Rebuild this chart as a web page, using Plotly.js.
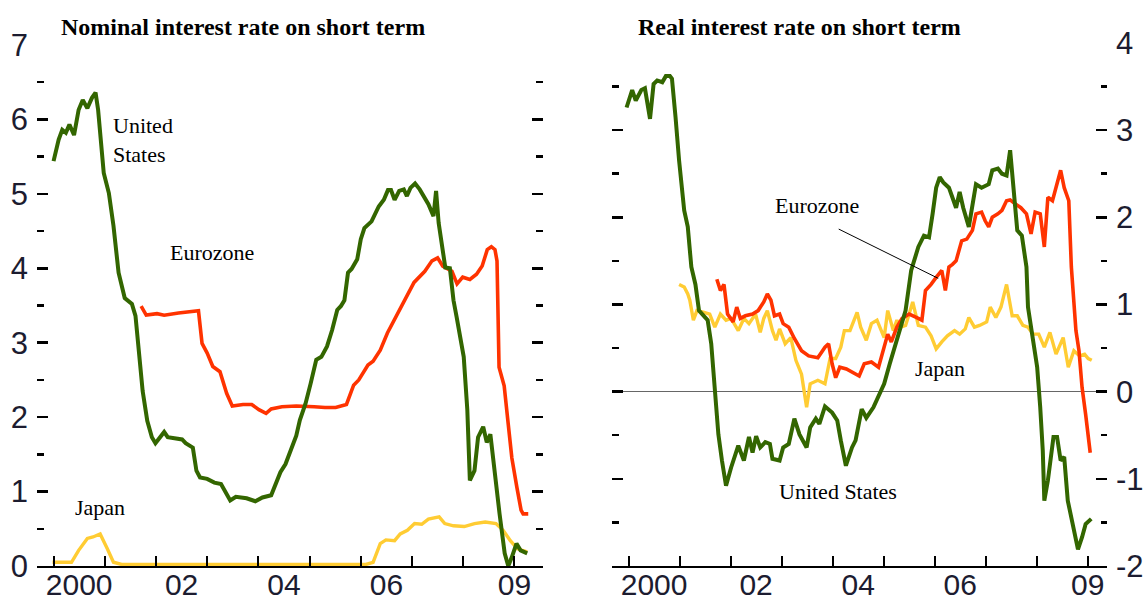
<!DOCTYPE html>
<html><head><meta charset="utf-8">
<script src="https://cdn.plot.ly/plotly-3.0.1.min.js"></script>
<style>html,body{margin:0;padding:0;background:#fff}#chart{width:1144px;height:603px}</style>
</head><body><div id="chart"></div>
<script>
// ---------- Nominal short-term interest rate (left panel) ----------
const usNomX = [2000.0, 2000.1, 2000.17, 2000.24, 2000.31, 2000.4, 2000.49, 2000.57, 2000.66, 2000.75,
  2000.82, 2000.87, 2000.98, 2001.08, 2001.17, 2001.27, 2001.39, 2001.53, 2001.6, 2001.67,
  2001.74, 2001.83, 2001.92, 2001.99, 2002.09, 2002.16, 2002.23, 2002.41, 2002.51, 2002.58,
  2002.72, 2002.79, 2002.86, 2003.0, 2003.14, 2003.27, 2003.35, 2003.45, 2003.56, 2003.77,
  2003.94, 2004.08, 2004.25, 2004.36, 2004.43, 2004.53, 2004.64, 2004.74, 2004.81, 2004.92,
  2005.02, 2005.13, 2005.23, 2005.34, 2005.44, 2005.54, 2005.61, 2005.68, 2005.75, 2005.82,
  2005.93, 2006.0, 2006.07, 2006.21, 2006.35, 2006.45, 2006.53, 2006.59, 2006.66, 2006.75,
  2006.84, 2006.9, 2006.97, 2007.06, 2007.15, 2007.23, 2007.32, 2007.42, 2007.47, 2007.52,
  2007.58, 2007.65, 2007.74, 2007.81, 2007.87, 2007.94, 2008.01, 2008.08, 2008.13, 2008.22,
  2008.29, 2008.39, 2008.46, 2008.53, 2008.6, 2008.71, 2008.81, 2008.88, 2008.95, 2009.04,
  2009.12, 2009.25];
const usNomY = [5.44, 5.73, 5.86, 5.82, 5.93, 5.79, 6.13, 6.26, 6.15, 6.29,
  6.36, 6.13, 5.28, 5.01, 4.57, 3.94, 3.6, 3.52, 3.36, 2.87,
  2.35, 1.95, 1.73, 1.65, 1.73, 1.8, 1.73, 1.71, 1.7, 1.65,
  1.59, 1.28, 1.19, 1.17, 1.12, 1.1, 1.0, 0.88, 0.93, 0.91,
  0.87, 0.92, 0.95, 1.15, 1.26, 1.37, 1.57, 1.75, 1.96, 2.18,
  2.45, 2.77, 2.81, 2.95, 3.17, 3.44, 3.49, 3.57, 3.94, 3.99,
  4.12, 4.39, 4.54, 4.63, 4.83, 4.92, 5.05, 5.05, 4.92, 5.04,
  5.06, 4.97, 5.08, 5.14, 5.06, 4.97, 4.86, 4.7, 5.04, 4.61,
  4.34, 4.01, 4.0, 3.57, 3.35, 3.08, 2.81, 2.1, 1.15, 1.28,
  1.73, 1.87, 1.66, 1.77, 1.33, 0.7, 0.17, 0.0, 0.12, 0.3,
  0.21, 0.17];

const euNomX = [2001.71, 2001.81, 2002.02, 2002.16, 2002.44, 2002.65, 2002.83, 2002.9, 2003.0, 2003.11,
  2003.25, 2003.38, 2003.49, 2003.7, 2003.87, 2004.01, 2004.15, 2004.25, 2004.46, 2004.74,
  2004.95, 2005.09, 2005.3, 2005.51, 2005.72, 2005.86, 2005.96, 2006.14, 2006.24, 2006.38,
  2006.52, 2006.69, 2006.87, 2007.04, 2007.25, 2007.39, 2007.5, 2007.6, 2007.78, 2007.88,
  2007.99, 2008.13, 2008.26, 2008.37, 2008.47, 2008.55, 2008.62, 2008.66, 2008.7, 2008.8,
  2008.88, 2008.95, 2009.05, 2009.13, 2009.17, 2009.27];
const euNomY = [3.49, 3.37, 3.39, 3.37, 3.4, 3.41, 3.43, 2.99, 2.86, 2.68,
  2.61, 2.32, 2.15, 2.17, 2.17, 2.1, 2.05, 2.11, 2.14, 2.15,
  2.15, 2.14, 2.13, 2.13, 2.17, 2.43, 2.5, 2.7, 2.75, 2.9,
  3.13, 3.35, 3.57, 3.81, 3.96, 4.1, 4.14, 4.03, 3.96, 3.79,
  3.88, 3.85, 3.92, 4.03, 4.25, 4.29, 4.25, 4.1, 2.67, 2.42,
  1.9, 1.45, 1.05, 0.75, 0.7, 0.7];

const jpNomX = [1999.98, 2000.14, 2000.35, 2000.49, 2000.66, 2000.77, 2000.91, 2001.05, 2001.17, 2001.33,
  2002.0, 2003.0, 2004.0, 2005.0, 2006.1, 2006.24, 2006.38, 2006.49, 2006.66, 2006.77,
  2006.91, 2007.05, 2007.19, 2007.32, 2007.53, 2007.64, 2007.81, 2008.02, 2008.22, 2008.43,
  2008.64, 2008.78, 2008.92, 2009.06, 2009.25];
const jpNomY = [0.05, 0.05, 0.05, 0.21, 0.37, 0.39, 0.43, 0.23, 0.05, 0.02,
  0.02, 0.02, 0.02, 0.02, 0.02, 0.05, 0.3, 0.35, 0.34, 0.43,
  0.48, 0.57, 0.56, 0.63, 0.66, 0.57, 0.54, 0.53, 0.57, 0.59,
  0.57, 0.48, 0.34, 0.23, 0.19];

// ---------- Real short-term interest rate (right panel) ----------
const usRealX = [1999.96, 2000.07, 2000.14, 2000.25, 2000.32, 2000.42, 2000.49, 2000.56, 2000.66, 2000.73,
  2000.81, 2000.85, 2000.92, 2000.99, 2001.09, 2001.16, 2001.23, 2001.31, 2001.38, 2001.48,
  2001.55, 2001.62, 2001.69, 2001.76, 2001.83, 2001.91, 2002.01, 2002.15, 2002.26, 2002.36,
  2002.43, 2002.5, 2002.58, 2002.68, 2002.77, 2002.82, 2002.96, 2003.03, 2003.14, 2003.25,
  2003.35, 2003.49, 2003.56, 2003.67, 2003.74, 2003.85, 2003.99, 2004.09, 2004.16, 2004.26,
  2004.38, 2004.45, 2004.57, 2004.66, 2004.8, 2004.9, 2005.01, 2005.12, 2005.22, 2005.33,
  2005.43, 2005.54, 2005.68, 2005.79, 2005.89, 2005.96, 2006.03, 2006.1, 2006.17, 2006.28,
  2006.35, 2006.42, 2006.49, 2006.56, 2006.67, 2006.74, 2006.81, 2006.92, 2007.06, 2007.13,
  2007.24, 2007.32, 2007.41, 2007.48, 2007.55, 2007.62, 2007.71, 2007.8, 2007.83, 2007.93,
  2008.01, 2008.07, 2008.12, 2008.15, 2008.22, 2008.33, 2008.4, 2008.47, 2008.54, 2008.61,
  2008.72, 2008.81, 2008.89, 2008.96, 2009.07];
const usRealY = [3.26, 3.46, 3.34, 3.46, 3.48, 3.13, 3.53, 3.57, 3.55, 3.62,
  3.62, 3.59, 3.15, 2.65, 2.08, 1.89, 1.43, 1.23, 0.93, 0.87,
  0.82, 0.55, 0.01, -0.49, -0.79, -1.08, -0.87, -0.62, -0.79, -0.52,
  -0.7, -0.51, -0.64, -0.58, -0.6, -0.77, -0.79, -0.64, -0.6, -0.31,
  -0.49, -0.64, -0.41, -0.31, -0.37, -0.17, -0.24, -0.33, -0.56, -0.85,
  -0.64, -0.56, -0.2, -0.3, -0.18, -0.05, 0.09, 0.32, 0.51, 0.74,
  0.93, 1.39, 1.66, 1.79, 1.77, 2.04, 2.34, 2.46, 2.4, 2.34,
  2.23, 2.11, 2.29, 2.11, 1.89, 2.15, 2.38, 2.34, 2.38, 2.54,
  2.56, 2.5, 2.48, 2.77, 2.27, 1.85, 1.79, 1.43, 0.97, 0.55,
  0.28, -0.18, -0.68, -1.25, -1.02, -0.52, -0.52, -0.79, -0.75, -1.25,
  -1.56, -1.81, -1.67, -1.52, -1.46];

const euRealX = [2001.73, 2001.8, 2001.87, 2001.94, 2002.05, 2002.12, 2002.19, 2002.29, 2002.43, 2002.54,
  2002.65, 2002.72, 2002.79, 2002.86, 2002.96, 2003.03, 2003.14, 2003.25, 2003.39, 2003.53,
  2003.71, 2003.85, 2003.92, 2003.99, 2004.06, 2004.14, 2004.27, 2004.41, 2004.52, 2004.62,
  2004.76, 2004.9, 2005.01, 2005.08, 2005.15, 2005.26, 2005.36, 2005.5, 2005.65, 2005.75,
  2005.82, 2005.93, 2006.03, 2006.14, 2006.21, 2006.28, 2006.35, 2006.42, 2006.53, 2006.63,
  2006.74, 2006.81, 2006.92, 2006.99, 2007.06, 2007.13, 2007.24, 2007.32, 2007.41, 2007.48,
  2007.59, 2007.69, 2007.8, 2007.89, 2007.97, 2008.07, 2008.15, 2008.22, 2008.31, 2008.38,
  2008.47, 2008.54, 2008.63, 2008.68, 2008.73, 2008.77, 2008.83, 2008.89, 2008.96, 2009.05];
const euRealY = [1.29, 1.16, 1.23, 0.89, 0.8, 0.97, 0.84, 0.87, 0.89, 0.93,
  1.03, 1.12, 1.05, 0.87, 0.89, 0.78, 0.74, 0.61, 0.47, 0.41,
  0.39, 0.51, 0.55, 0.32, 0.16, 0.28, 0.26, 0.22, 0.18, 0.32,
  0.34, 0.28, 0.51, 0.66, 0.57, 0.74, 0.84, 0.89, 0.85, 0.82,
  1.16, 1.23, 1.31, 1.39, 1.16, 1.43, 1.46, 1.5, 1.73, 1.75,
  1.85, 2.04, 2.06, 1.96, 1.89, 2.0, 2.04, 2.08, 2.19, 2.2,
  2.15, 2.11, 2.04, 1.81, 2.06, 2.04, 1.66, 2.23, 2.19, 2.34,
  2.54, 2.34, 2.19, 1.43, 1.04, 0.7, 0.47, 0.05, -0.26, -0.7];

const jpRealX = [2000.99, 2001.09, 2001.16, 2001.2, 2001.27, 2001.34, 2001.48, 2001.59, 2001.69, 2001.8,
  2001.91, 2002.01, 2002.15, 2002.26, 2002.36, 2002.49, 2002.58, 2002.65, 2002.72, 2002.82,
  2002.89, 2002.96, 2003.07, 2003.18, 2003.28, 2003.39, 2003.49, 2003.56, 2003.71, 2003.85,
  2003.95, 2004.06, 2004.16, 2004.23, 2004.34, 2004.48, 2004.55, 2004.66, 2004.76, 2004.87,
  2005.01, 2005.08, 2005.19, 2005.26, 2005.33, 2005.43, 2005.5, 2005.57, 2005.68, 2005.82,
  2005.93, 2006.03, 2006.14, 2006.25, 2006.39, 2006.49, 2006.6, 2006.67, 2006.78, 2006.88,
  2007.02, 2007.09, 2007.2, 2007.3, 2007.41, 2007.52, 2007.62, 2007.73, 2007.83, 2007.93,
  2008.04, 2008.15, 2008.26, 2008.38, 2008.52, 2008.62, 2008.73, 2008.84, 2008.94, 2009.01,
  2009.08];
const jpRealY = [1.23, 1.2, 1.12, 1.05, 0.82, 0.93, 0.91, 0.89, 0.74, 0.89,
  0.82, 0.84, 0.7, 0.84, 0.78, 0.89, 0.68, 0.84, 0.93, 0.7,
  0.59, 0.72, 0.55, 0.62, 0.36, 0.2, -0.18, 0.09, 0.13, 0.09,
  0.38, 0.38, 0.51, 0.7, 0.7, 0.91, 0.74, 0.59, 0.78, 0.82,
  0.62, 0.93, 0.7, 0.82, 0.74, 0.76, 0.89, 1.03, 0.76, 0.74,
  0.64, 0.49, 0.57, 0.64, 0.7, 0.66, 0.72, 0.85, 0.74, 0.76,
  0.8, 0.97, 0.85, 0.97, 1.23, 0.87, 0.87, 0.76, 0.74, 0.66,
  0.66, 0.51, 0.68, 0.43, 0.62, 0.28, 0.47, 0.41, 0.43, 0.38,
  0.36];

// ---------- Tick labels ----------
const xTickVals = [2000.5, 2002.5, 2004.5, 2006.5, 2009];
const xTickText = ['2000', '02', '04', '06', '09'];
const nomTickVals = [0, 1, 2, 3, 4, 5, 6, 7];
const nomTickText = ['0', '1', '2', '3', '4', '5', '6', '7'];
const realTickVals = [-2, -1, 0, 1, 2, 3, 4];
const realTickText = ['-2', '-1', '0', '1', '2', '3', '4'];

const GREEN = '#336600', RED = '#ff3300', YELLOW = '#ffcc33';
const tickFont = {family: 'Liberation Sans, Arial, sans-serif', size: 31, color: '#1c1c30'};
const xTickFont = {family: 'Liberation Sans, Arial, sans-serif', size: 30, color: '#1c1c30'};
const serif = 'Liberation Serif, Times New Roman, serif';

function line(x, y, color, width, xa, ya) {
  return {type: 'scatter', mode: 'lines', x: x, y: y, xaxis: xa, yaxis: ya,
    line: {color: color, width: width}, hoverinfo: 'skip', showlegend: false};
}

const data = [
  line(jpNomX, jpNomY, YELLOW, 3.4, 'x', 'y'),
  line(euNomX, euNomY, RED, 3.6, 'x', 'y'),
  line(usNomX, usNomY, GREEN, 4, 'x', 'y'),
  line(jpRealX, jpRealY, YELLOW, 3.4, 'x2', 'y2'),
  line(euRealX, euRealY, RED, 3.6, 'x2', 'y2'),
  line(usRealX, usRealY, GREEN, 4, 'x2', 'y2')
];

function xAxis(domain, range, anchor) {
  return {domain: domain, range: range, anchor: anchor,
    showline: true, linecolor: '#000', linewidth: 2.5,
    showgrid: false, zeroline: false,
    tickmode: 'array', tickvals: xTickVals, ticktext: xTickText,
    ticks: 'outside', ticklen: 0, tickfont: xTickFont, ticklabelstandoff: -9,
    minor: {tick0: 2000, dtick: 1, ticks: 'inside', ticklen: 10, tickwidth: 2, tickcolor: '#000', showgrid: false},
    fixedrange: true};
}
function yAxis(domain, range, anchor, side, vals, text, zl) {
  return {domain: domain, range: range, anchor: anchor, side: side,
    showline: false, showgrid: false, zeroline: zl, zerolinecolor: '#666', zerolinewidth: 1,
    tickmode: 'array', tickvals: vals, ticktext: text,
    ticks: 'inside', ticklen: 11, tickwidth: 2.5, tickcolor: '#000', mirror: 'ticks',
    minor: {tick0: 0, dtick: 0.5, ticks: 'inside', ticklen: 6.5, tickwidth: 2.5, tickcolor: '#000', showgrid: false},
    tickfont: tickFont, ticklabelstandoff: 8, fixedrange: true};
}

const annFont = {family: serif, size: 22, color: '#000'};
const titleFont = {family: serif, size: 24, color: '#000', weight: 'bold'};

const layout = {
  width: 1144, height: 603,
  margin: {l: 0, r: 0, t: 0, b: 0},
  paper_bgcolor: '#fff', plot_bgcolor: '#fff',
  showlegend: false,
  xaxis: xAxis([0.0324, 0.4746], [1999.678, 2009.557], 'y'),
  yaxis: yAxis([0.0614, 0.9254], [0, 7], 'x', 'left', nomTickVals, nomTickText, false),
  xaxis2: xAxis([0.5353, 0.9677], [1999.682, 2009.38], 'y2'),
  yaxis2: yAxis([0.0614, 0.9287], [-2, 4], 'x2', 'right', realTickVals, realTickText, true),
  annotations: [
    {xref: 'paper', yref: 'paper', x: 0.2124, y: 0.9552, text: '<b>Nominal interest rate on short term</b>',
      showarrow: false, font: titleFont, xanchor: 'center', yanchor: 'middle'},
    {xref: 'paper', yref: 'paper', x: 0.6993, y: 0.9552, text: '<b>Real interest rate on short term</b>',
      showarrow: false, font: titleFont, xanchor: 'center', yanchor: 'middle'},
    {xref: 'x', yref: 'y', x: 2001.12, y: 5.73, text: 'United<br>States', align: 'left',
      showarrow: false, font: annFont, xanchor: 'left', yanchor: 'middle'},
    {xref: 'x', yref: 'y', x: 2003.09, y: 4.21, text: 'Eurozone', showarrow: false, font: annFont},
    {xref: 'x', yref: 'y', x: 2000.91, y: 0.79, text: 'Japan', showarrow: false, font: annFont},
    {xref: 'x2', yref: 'y2', x: 2003.69, y: 2.13, text: 'Eurozone', showarrow: false, font: annFont},
    {xref: 'x2', yref: 'y2', x: 2006.07, y: 1.30, text: '', showarrow: true, arrowhead: 0,
      arrowwidth: 1, arrowcolor: '#000', ax: -101, ay: -50, standoff: 0},
    {xref: 'x2', yref: 'y2', x: 2006.11, y: 0.26, text: 'Japan', showarrow: false, font: annFont},
    {xref: 'x2', yref: 'y2', x: 2004.10, y: -1.14, text: 'United States', showarrow: false, font: annFont}
  ]
};

Plotly.newPlot('chart', data, layout, {staticPlot: true, displayModeBar: false});
</script>
</body></html>
